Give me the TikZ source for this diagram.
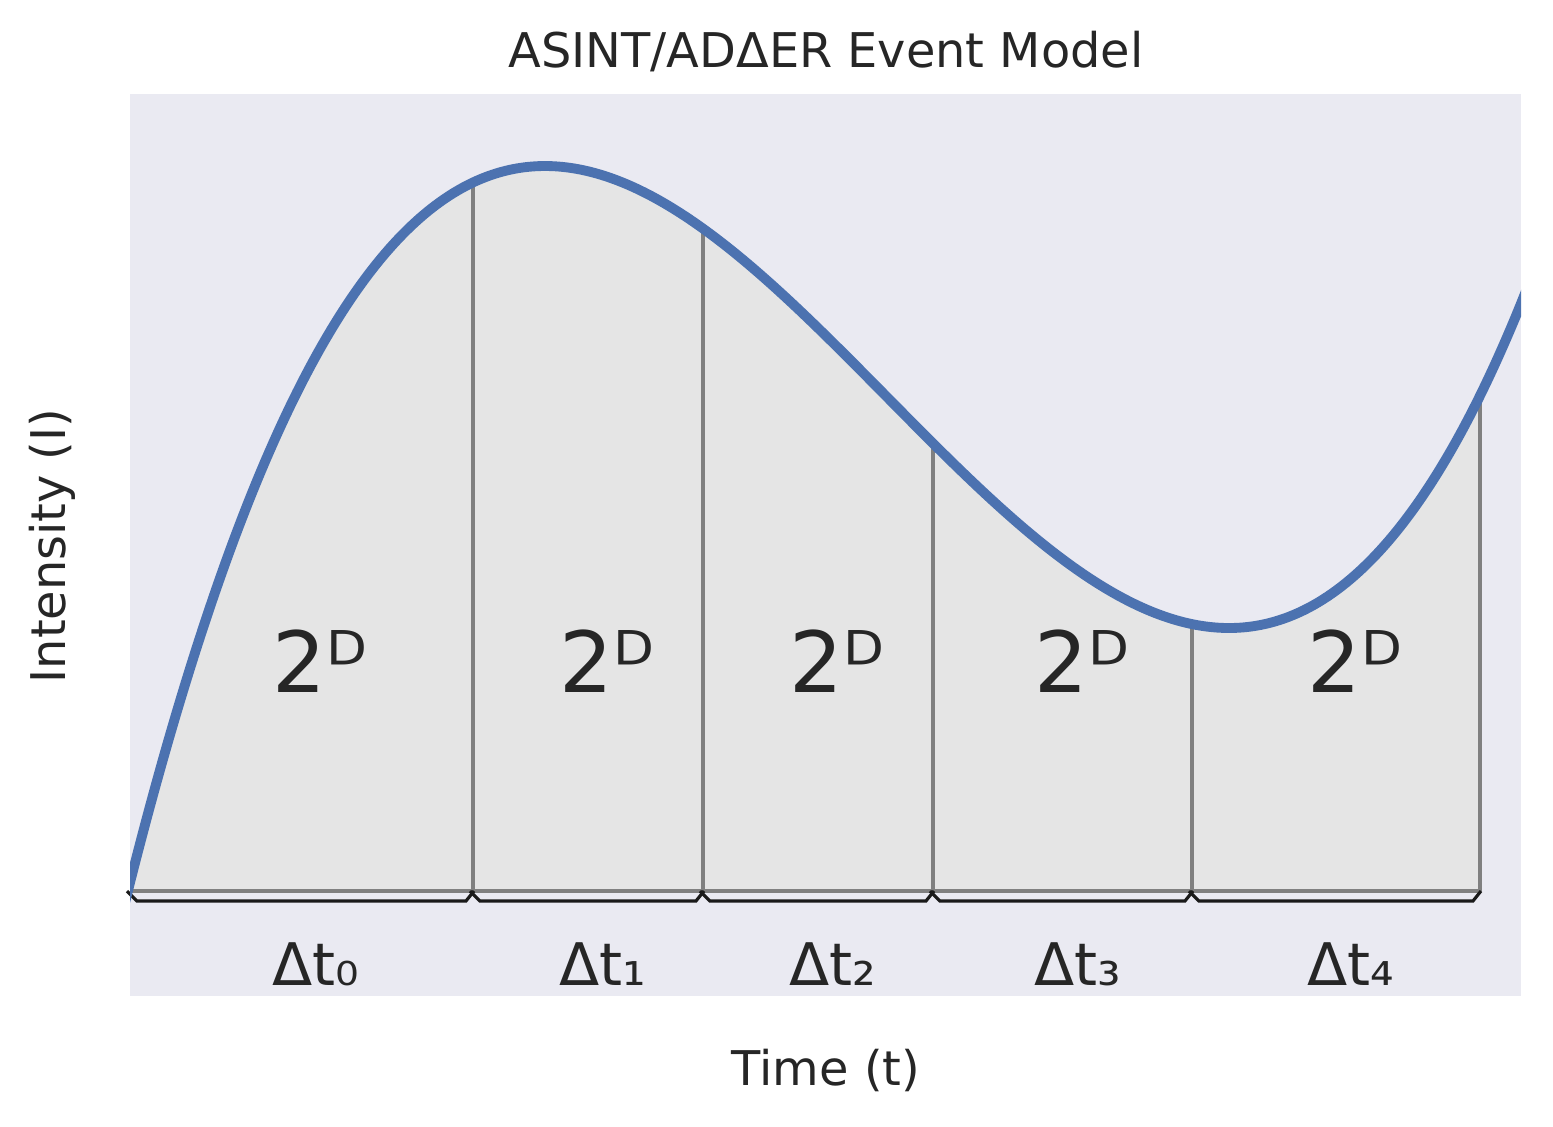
\documentclass[tikz,border=0pt]{standalone}
\usepackage{fontspec}
\setmainfont{DejaVu Sans}
\definecolor{bgc}{HTML}{EAEAF2}
\definecolor{areac}{HTML}{E5E5E5}
\definecolor{curvec}{HTML}{4C72B0}
\definecolor{linec}{HTML}{808080}
\definecolor{txtc}{HTML}{262626}
\definecolor{bracec}{HTML}{1A1A1A}
\tikzset{
  curveline/.style={draw=curvec, line width=2.8pt},
  segline/.style={draw=linec, line width=1.0pt},
  bracket/.style={draw=bracec, line width=0.9pt, line join=miter},
  powlab/.style={text=txtc, anchor=base, inner sep=0pt, font=\fontsize{24}{28}\selectfont},
  dtlab/.style={text=txtc, anchor=base, inner sep=0pt, font=\fontsize{16.7}{20}\selectfont},
  axlab/.style={text=txtc, anchor=base, inner sep=0pt, font=\fontsize{13.6}{16}\selectfont},
}
\begin{document}
\begin{tikzpicture}[x=0.01cm, y=-0.01cm,
  declare function={vv(\x)=(\x-887)/342; fy(\x)=397-346.5*(vv(\x)*vv(\x)*vv(\x)/3-vv(\x));}]
\useasboundingbox (0,0) rectangle (1553,1126);
% axes background
\fill[bgc] (130,94) rectangle (1521,996);
% shaded area under curve
\fill[areac] (130,891) -- plot[domain=130:1480, samples=160, smooth] (\x,{fy(\x)}) -- (1480,891) -- cycle;
% vertical separators and baseline
\foreach \xx in {473,703,933,1192,1480}
  \draw[segline] (\xx,891) -- (\xx,{fy(\xx)});
\draw[segline] (130,891) -- (1480,891);
% brackets
\foreach \a/\b in {130/473,473/703,703/933,933/1192,1192/1480}
  \draw[bracket] ({\a-3},891) -- ({\a+7},901) -- ({\b-7},901) -- ({\b+1},891);
% curve
\begin{scope}
  \clip (130,94) rectangle (1521,996);
  \draw[curveline] plot[domain=120:1530, samples=200, smooth] (\x,{fy(\x)});
\end{scope}
% labels
\node[powlab] (p0) at (320,692) {2ᴰ};
\node[powlab] (p1) at (607,692) {2ᴰ};
\node[powlab] (p2) at (837,692) {2ᴰ};
\node[powlab] (p3) at (1082,692) {2ᴰ};
\node[powlab] (p4) at (1355,692) {2ᴰ};
\node[dtlab] (t0) at (316,985) {Δt₀};
\node[dtlab] (t1) at (603,985) {Δt₁};
\node[dtlab] (t2) at (833,985) {Δt₂};
\node[dtlab] (t3) at (1078,985) {Δt₃};
\node[dtlab] (t4) at (1351,985) {Δt₄};
\node[axlab] (title) at (826,67) {ASINT/ADΔER Event Model};
\node[axlab] (xlab) at (826,1085) {Time (t)};
\node[axlab, rotate=90] (ylab) at (65,546) {Intensity (I)};
\end{tikzpicture}
\end{document}
